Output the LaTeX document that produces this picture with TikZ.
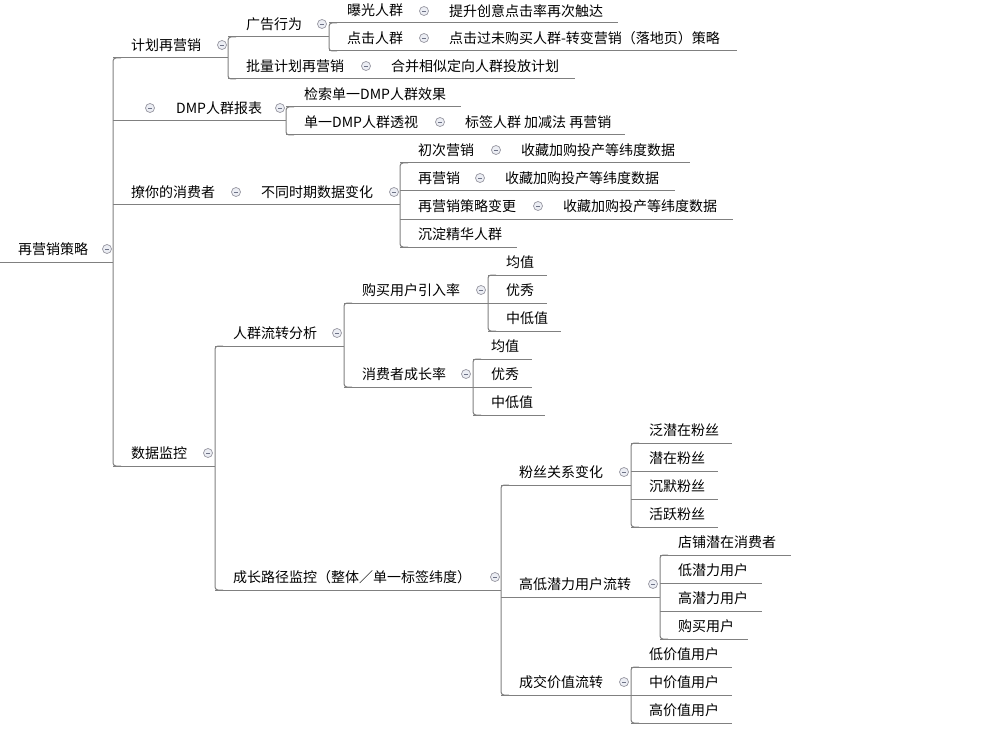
\documentclass[tikz,border=0pt]{standalone}
\usepackage{fontspec}
\setmainfont{Noto Sans CJK SC}
\usepackage{tikz}
\usetikzlibrary{positioning}
\definecolor{linegray}{RGB}{128,128,128}
\definecolor{icongray}{RGB}{150,150,160}
\definecolor{iconfill}{RGB}{236,238,244}
\definecolor{iconminus}{RGB}{110,115,135}
\tikzstyle{line} = [draw=linegray, line width=1pt]
\tikzstyle{bracket} = [line, rounded corners=3pt]
\tikzstyle{leaf} = [inner sep=0pt]
\tikzstyle{fold} = [circle, draw=icongray, fill=iconfill, minimum size=9pt,
    inner sep=0pt, line width=0.7pt,
    path picture={\draw[iconminus, line width=0.8pt]
      ([xshift=2.3pt]path picture bounding box.west) --
      ([xshift=-2.3pt]path picture bounding box.east);}]
\tikzset{topic/.style={anchor=south west, inner sep=0pt, minimum height=26pt,
    text width=#1pt, align=left, execute at begin node={\hspace*{18pt}},
    append after command={\pgfextra{\draw[line] (\tikzlastnode.south west) --
      (\tikzlastnode.south east);}}}}

\begin{document}
\begin{tikzpicture}[x=1pt, y=-1pt, font=\fontsize{14}{17}\selectfont]
  \useasboundingbox (0,0) rectangle (990,730);
  % root
  \node [topic=113] (root) at (0,262) {再营销策略};
  \node [fold] (root-i) at (107,249) {};
  % first level
  \node [topic=115] (jhyx) at (113,58) {计划再营销};
  \node [fold] (jhyx-i) at (222,45) {};
  \node [topic=173] (dmp) at (113,121) {\hspace*{45pt}DMP人群报表};
  \node [fold] (dmp-l) at (150,108) {};
  \node [fold] (dmp-i) at (280,108) {};
  \node [topic=287] (lnxf) at (113,205) {撩你的消费者};
  \node [fold] (lnxf-i) at (236,192) {};
  \node [leaf, right=20pt of lnxf-i] (btsq) {不同时期数据变化};
  \node [fold] (btsq-i) at (394,192) {};
  \node [topic=102] (sjjk) at (113,466) {数据监控};
  \node [fold] (sjjk-i) at (208,453) {};
  % 计划再营销
  \node [topic=101] (ggxw) at (228,37) {广告行为};
  \node [fold] (ggxw-i) at (322,24) {};
  \node [topic=289] (bgrq) at (329,23) {曝光人群};
  \node [fold] (bgrq-i) at (424,11) {};
  \node [leaf, right=20pt of bgrq-i] (tscy) {提升创意点击率再次触达};
  \node [topic=408] (djrq) at (329,51) {点击人群};
  \node [fold] (djrq-i) at (424,38) {};
  \node [leaf, right=20pt of djrq-i] (djgw) {点击过未购买人群-转变营销（落地页）策略};
  \node [topic=347] (pljh) at (228,79) {批量计划再营销};
  \node [fold] (pljh-i) at (366,66) {};
  \node [leaf, right=20pt of pljh-i] (hbxs) {合并相似定向人群投放计划};
  % DMP人群报表
  \node [topic=175] (jsdmp) at (286,107) {检索单一DMP人群效果};
  \node [topic=339] (dydmp) at (286,135) {单一DMP人群透视};
  \node [fold] (dydmp-i) at (440,122) {};
  \node [leaf, right=20pt of dydmp-i] (bqrq) {标签人群 加减法 再营销};
  % 不同时期数据变化
  \node [topic=290] (ccyx) at (400,163) {初次营销};
  \node [fold] (ccyx-i) at (496,150) {};
  \node [leaf, right=20pt of ccyx-i] (sc1) {收藏加购投产等纬度数据};
  \node [topic=275] (zyx) at (400,191) {再营销};
  \node [fold] (zyx-i) at (480,178) {};
  \node [leaf, right=20pt of zyx-i] (sc2) {收藏加购投产等纬度数据};
  \node [topic=333] (clbg) at (400,219) {再营销策略变更};
  \node [fold] (clbg-i) at (538,206) {};
  \node [leaf, right=20pt of clbg-i] (sc3) {收藏加购投产等纬度数据};
  \node [topic=117] (cdjh) at (400,247) {沉淀精华人群};
  % 数据监控
  \node [topic=129] (rqlz) at (215,346) {人群流转分析};
  \node [fold] (rqlz-i) at (337,333) {};
  \node [topic=144] (gmyh) at (344,303) {购买用户引入率};
  \node [fold] (gmyh-i) at (481,290) {};
  \node [topic=59] (gm-jz) at (488,275) {均值};
  \node [topic=59] (gm-yx) at (488,303) {优秀};
  \node [topic=73] (gm-zd) at (488,331) {中低值};
  \node [topic=129] (xfcz) at (344,387) {消费者成长率};
  \node [fold] (xfcz-i) at (466,374) {};
  \node [topic=59] (xf-jz) at (473,359) {均值};
  \node [topic=59] (xf-yx) at (473,387) {优秀};
  \node [topic=72] (xf-zd) at (473,415) {中低值};
  \node [topic=286] (czlj) at (215,590) {成长路径监控（整体／单一标签纬度）};
  \node [fold] (czlj-i) at (495,577) {};
  \node [topic=130] (fsgx) at (501,485) {粉丝关系变化};
  \node [fold] (fsgx-i) at (624,472) {};
  \node [topic=101] (fs-fq) at (631,443) {泛潜在粉丝};
  \node [topic=87] (fs-qz) at (631,471) {潜在粉丝};
  \node [topic=87] (fs-cm) at (631,499) {沉默粉丝};
  \node [topic=87] (fs-hy) at (631,527) {活跃粉丝};
  \node [topic=159] (gdql) at (501,597) {高低潜力用户流转};
  \node [fold] (gdql-i) at (653,584) {};
  \node [topic=131] (ql-dp) at (660,555) {店铺潜在消费者};
  \node [topic=102] (ql-d) at (660,583) {低潜力用户};
  \node [topic=102] (ql-g) at (660,611) {高潜力用户};
  \node [topic=88] (ql-gm) at (660,639) {购买用户};
  \node [topic=130] (cjjz) at (501,695) {成交价值流转};
  \node [fold] (cjjz-i) at (624,682) {};
  \node [topic=101] (jz-d) at (631,667) {低价值用户};
  \node [topic=101] (jz-z) at (631,695) {中价值用户};
  \node [topic=101] (jz-g) at (631,723) {高价值用户};
  % brackets from first to last child
  \foreach \a/\b in {jhyx/sjjk, ggxw/pljh, bgrq/djrq, jsdmp/dydmp, ccyx/cdjh,
      rqlz/czlj, gmyh/xfcz, gm-jz/gm-zd, xf-jz/xf-zd, fsgx/cjjz,
      fs-fq/fs-hy, ql-dp/ql-gm, jz-d/jz-g}
    \draw [bracket] ([xshift=8pt]\a.south west) -- (\a.south west)
      -- (\b.south west) -- ([xshift=8pt]\b.south west);
\end{tikzpicture}
\end{document}
